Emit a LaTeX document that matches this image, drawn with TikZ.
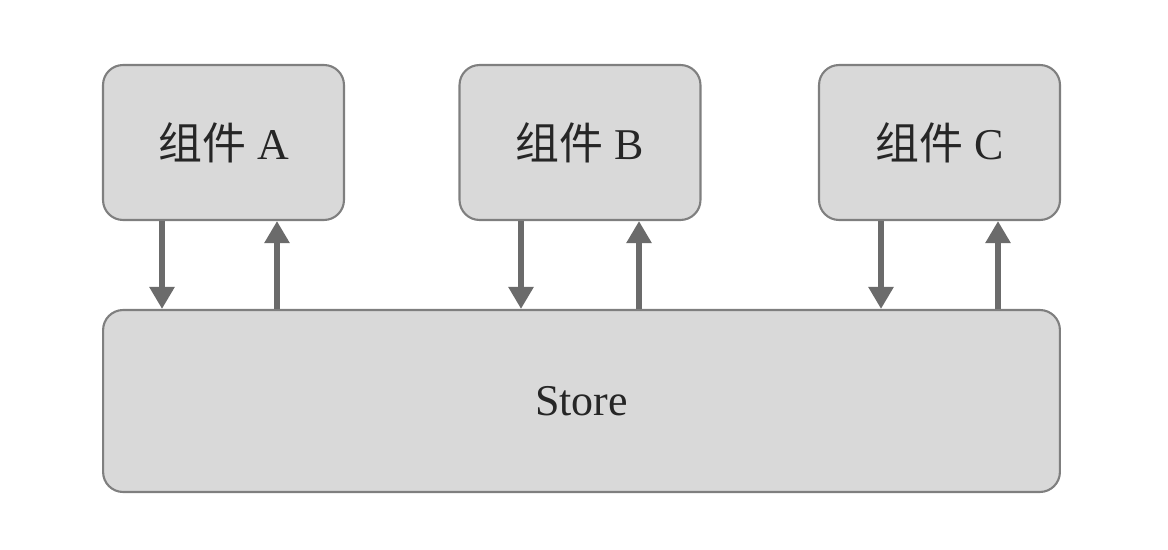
\documentclass[tikz,border=0pt]{standalone}
\usepackage{fontspec}
\setmainfont{Liberation Serif}
\newfontfamily\cjk{Noto Sans CJK SC}
\usetikzlibrary{arrows.meta}
\definecolor{boxfill}{HTML}{D9D9D9}
\definecolor{boxline}{HTML}{7F7F7F}
\definecolor{arrowgray}{HTML}{6B6B6B}
\tikzset{>=stealth}
\tikzset{
  compbox/.style={draw=boxline, fill=boxfill, line width=1.2pt, rounded corners=0.4cm,
    minimum width=4.82cm, minimum height=3.1cm, font=\fontsize{25}{30}\selectfont, text=black!85},
  flow/.style={draw=arrowgray, line width=3.6pt, -{Triangle[width=0.48cm,length=0.44cm]}, arrowgray}
}

\begin{document}
\begin{tikzpicture}[x=0.02cm, y=-0.02cm]
    \useasboundingbox (0,0) rectangle (1168,550);
    \node [compbox] (A) at (223.5,142.5) {{\cjk 组件} A};
    \node [compbox] (B) at (580,142.5) {{\cjk 组件} B};
    \node [compbox] (C) at (939.5,142.5) {{\cjk 组件} C};
    \node [compbox, minimum width=19.14cm, minimum height=3.64cm] (store) at (581.5,401) {Store};
    \foreach \n/\d/\u in {A/162/277, B/521/639, C/881/998} {
        \draw [flow] (\n.south -| {\d,0}) -- (store.north -| {\d,0});
        \draw [flow] (store.north -| {\u,0}) -- (\n.south -| {\u,0});
    }
\end{tikzpicture}
\end{document}
